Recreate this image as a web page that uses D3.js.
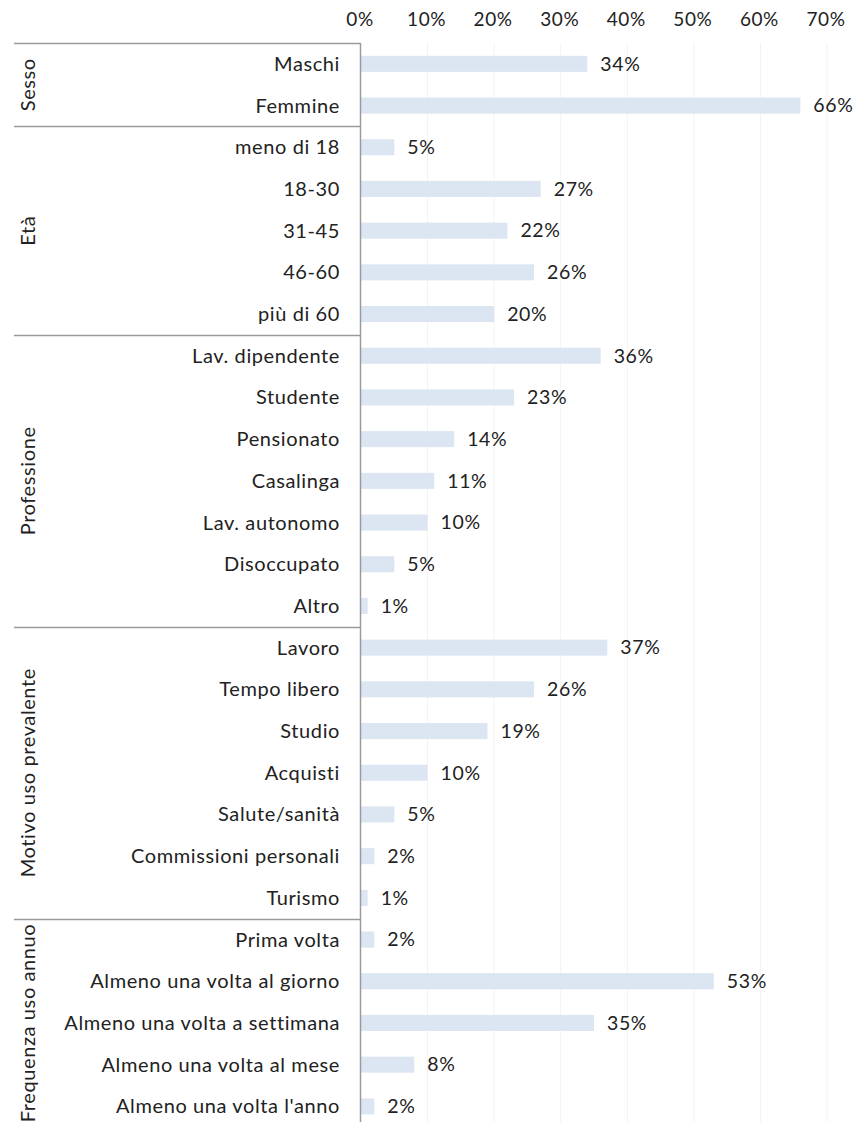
<!DOCTYPE html>
<html>
<head>
<meta charset="utf-8">
<script src="https://cdn.jsdelivr.net/npm/d3@7"></script>
<style>
  html, body { margin: 0; padding: 0; background: #fff; }
  text { font-family: Lato, "Open Sans", sans-serif; font-weight: 400; fill: #222; letter-spacing: 0.6px; }
</style>
</head>
<body>
<svg id="chart" width="856" height="1122"></svg>
<script>
const groups = ['Sesso', 'Età', 'Professione', 'Motivo uso prevalente', 'Frequenza uso annuo'];
const groupSizes = [2, 5, 7, 7, 5];
const categories = [
  'Maschi', 'Femmine',
  'meno di 18', '18-30', '31-45', '46-60', 'più di 60',
  'Lav. dipendente', 'Studente', 'Pensionato', 'Casalinga', 'Lav. autonomo', 'Disoccupato', 'Altro',
  'Lavoro', 'Tempo libero', 'Studio', 'Acquisti', 'Salute/sanità', 'Commissioni personali', 'Turismo',
  'Prima volta', 'Almeno una volta al giorno', 'Almeno una volta a settimana', 'Almeno una volta al mese', "Almeno una volta l'anno"
];
const values = [
  34, 66,
  5, 27, 22, 26, 20,
  36, 23, 14, 11, 10, 5, 1,
  37, 26, 19, 10, 5, 2, 1,
  2, 53, 35, 8, 2
];
const ticks = [0, 10, 20, 30, 40, 50, 60, 70];

const svg = d3.select('#chart');
const plotLeft = 361, plotRight = 827, plotTop = 43;
const rowH = 41.7;
const plotBottom = plotTop + rowH * categories.length;

const x = d3.scaleLinear().domain([0, 70]).range([plotLeft, plotRight]);
const y = d3.scaleBand().domain(categories).range([plotTop, plotBottom]).paddingInner(0.615).paddingOuter(0.3075);

// gridlines
svg.append('g').selectAll('line').data(ticks.slice(1)).join('line')
  .attr('x1', d => x(d)).attr('x2', d => x(d))
  .attr('y1', plotTop).attr('y2', plotBottom)
  .attr('stroke', '#f3f3f3').attr('stroke-width', 1);

// top axis labels
svg.append('g').selectAll('text').data(ticks).join('text')
  .attr('x', d => x(d) - 1).attr('y', 26)
  .attr('text-anchor', 'middle')
  .attr('font-size', 19)
  .text(d => d + '%');

// bars
svg.append('g').selectAll('rect').data(values).join('rect')
  .attr('x', x(0))
  .attr('y', (d, i) => y(categories[i]))
  .attr('width', d => x(d) - x(0))
  .attr('height', y.bandwidth())
  .attr('fill', '#dce6f2');

// value labels
svg.append('g').selectAll('text').data(values).join('text')
  .attr('x', d => x(d) + 13)
  .attr('y', (d, i) => y(categories[i]) + y.bandwidth() / 2)
  .attr('dy', '0.35em')
  .attr('font-size', 19.5)
  .text(d => d + '%');

// category labels
svg.append('g').selectAll('text').data(categories).join('text')
  .attr('x', 340)
  .attr('y', d => y(d) + y.bandwidth() / 2)
  .attr('dy', '0.35em')
  .attr('text-anchor', 'end')
  .attr('font-size', 20)
  .text(d => d);

// group separators and labels
let start = 0;
const bounds = [plotTop];
groups.forEach((g, gi) => {
  const y0 = plotTop + start * rowH;
  const y1 = plotTop + (start + groupSizes[gi]) * rowH;
  bounds.push(y1);
  svg.append('text')
    .attr('transform', `translate(${28},${(y0 + y1) / 2}) rotate(-90)`)
    .attr('text-anchor', 'middle')
    .attr('dy', '0.35em')
    .attr('font-size', 20)
    .text(g);
  start += groupSizes[gi];
});

svg.append('g').selectAll('line').data(bounds.slice(0, -1)).join('line')
  .attr('x1', 14).attr('x2', plotLeft - 0.5)
  .attr('y1', d => Math.round(d) + 0.5).attr('y2', d => Math.round(d) + 0.5)
  .attr('stroke', '#9a9a9a').attr('stroke-width', 1.5);

// vertical axis line
svg.append('line')
  .attr('x1', plotLeft - 0.5).attr('x2', plotLeft - 0.5)
  .attr('y1', plotTop).attr('y2', plotBottom)
  .attr('stroke', '#9a9a9a').attr('stroke-width', 1.5);
</script>
</body>
</html>
